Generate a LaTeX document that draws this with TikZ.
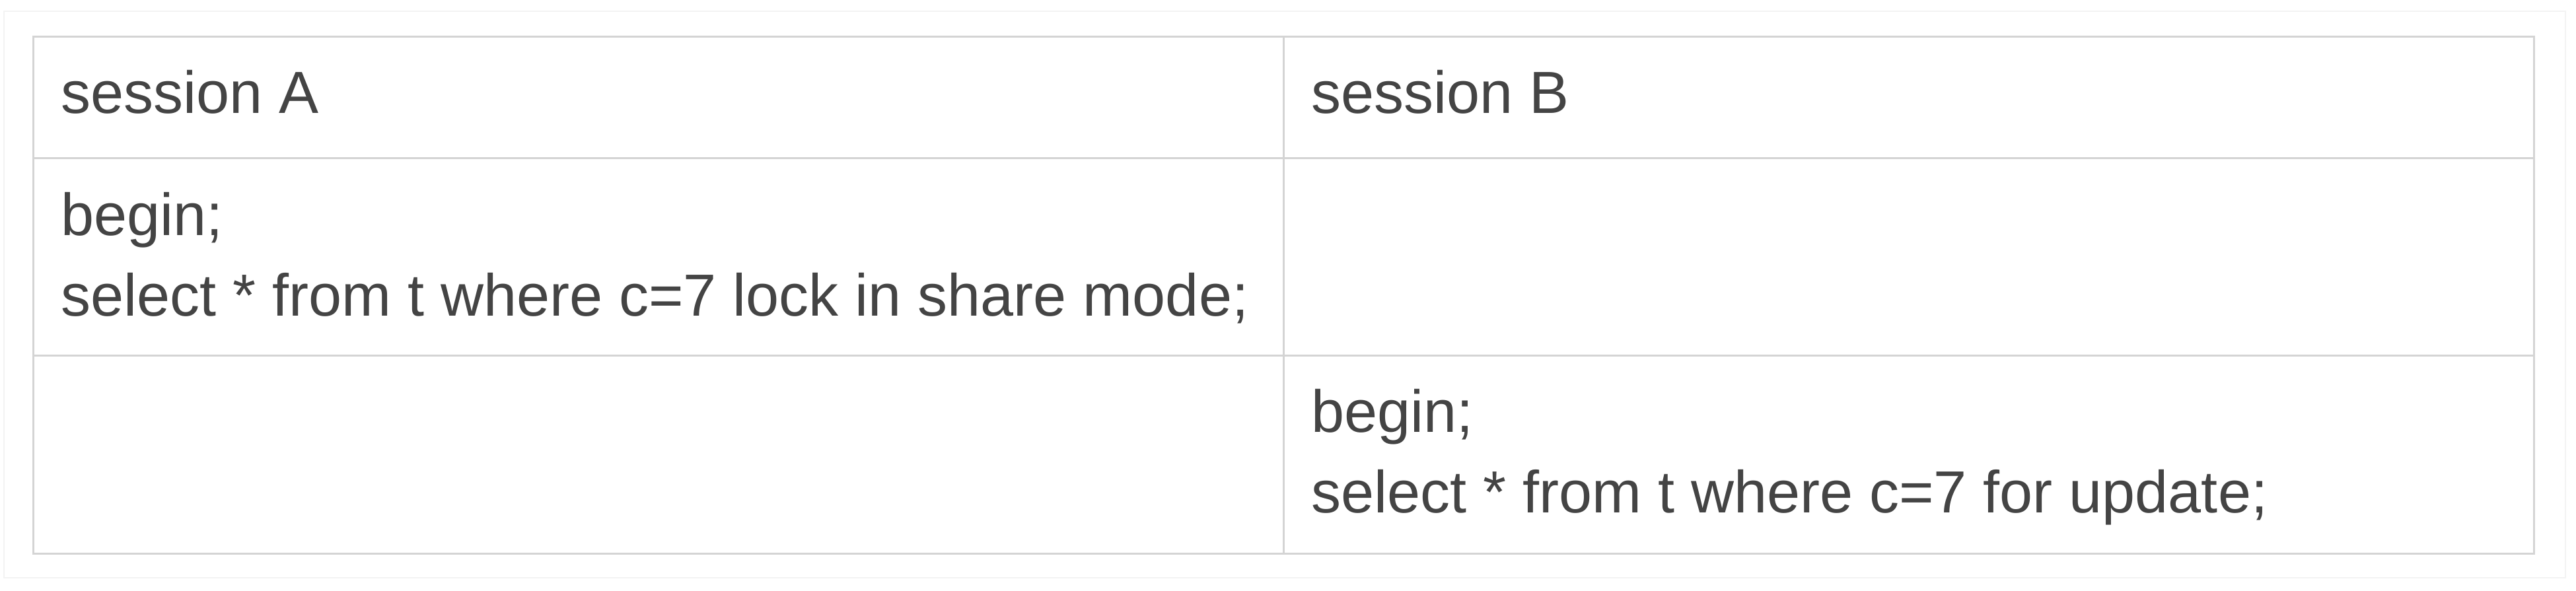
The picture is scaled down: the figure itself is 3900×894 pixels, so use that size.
\documentclass[tikz,border=0pt]{standalone}
\usepackage{fontspec}
\setmainfont{Liberation Sans}
\definecolor{gridc}{HTML}{D4D4D4}
\definecolor{framec}{HTML}{F3F3F3}
\definecolor{txtc}{HTML}{444444}
\tikzset{
  celltext/.style={anchor=base west, inner sep=0pt, text=txtc, font=\fontsize{18}{24.4}\selectfont},
  gridline/.style={draw=gridc, line width=0.6pt},
}
\begin{document}
\begin{tikzpicture}[x=0.2pt,y=-0.2pt]
\useasboundingbox[fill=white] (0,0) rectangle (3900,894);
\draw[framec, line width=0.5pt] (6,17) rectangle (3884,875);
% table grid
\draw[gridline] (50,55) rectangle (3836,838);
\draw[gridline] (50,239) -- (3836,239);
\draw[gridline] (50,538) -- (3836,538);
\draw[gridline] (1943,55) -- (1943,838);
% texts
\node[celltext] (ha) at (91,171) {session A};
\node[celltext] (hb) at (1984,171) {session B};
\node[celltext] (a1) at (91,356) {begin;};
\node[celltext] (a2) at (91,478) {select * from t where c=7 lock in share mode;};
\node[celltext] (b1) at (1984,654) {begin;};
\node[celltext] (b2) at (1984,776) {select * from t where c=7 for update;};
\end{tikzpicture}
\end{document}
